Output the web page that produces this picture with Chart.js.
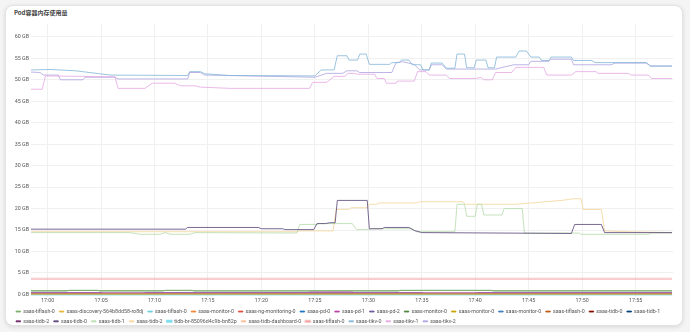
<!DOCTYPE html>
<html>
<head>
<meta charset="utf-8">
<script src="https://cdn.jsdelivr.net/npm/chart.js@4"></script>
<style>
  html, body { margin: 0; padding: 0; width: 690px; height: 332px; overflow: hidden; background: #f4f4f4; }
  .card {
    position: absolute; left: 5px; top: 5px; width: 676px; height: 319px;
    background: #fff; border: 1px solid #e4e4e4; border-radius: 8px;
    box-shadow: 0 1px 4px rgba(0,0,0,0.12);
  }
  .title {
    position: absolute; left: 14px; top: 7.5px;
    font: bold 6px "Noto Sans CJK SC", "Noto Sans", sans-serif; color: #444;
  }
  #chart { position: absolute; left: 0; top: 0; }
</style>
</head>
<body>
<div class="card"></div>
<div class="title">Pod容器内存使用量</div>
<canvas id="chart" width="690" height="334" style="width:690px;height:334px"></canvas>
<script>
// x values are minutes after 17:00, y values are GB
const yTicks = [0, 5, 10, 15, 20, 25, 30, 35, 40, 45, 50, 55, 60];
const xTicks = [0, 5, 10, 15, 20, 25, 30, 35, 40, 45, 50, 55];

const names = [
  'saas-tiflash-0', 'saas-discovery-564b8dd58-ro8dj', 'saas-tiflash-0', 'saas-monitor-0',
  'saas-ng-monitoring-0', 'saas-pd-0', 'saas-pd-1', 'saas-pd-2', 'saas-monitor-0',
  'saas-monitor-0', 'saas-monitor-0', 'saas-tiflash-0', 'saas-tidb-0', 'saas-tidb-1',
  'saas-tidb-2', 'saas-tidb-0', 'saas-tidb-1', 'saas-tidb-2', 'tidb-br-85096d4c9b-bn82p',
  'saas-tidb-dashboard-0', 'saas-tiflash-0', 'saas-tikv-0', 'saas-tikv-1', 'saas-tikv-2'
];

const colors = [
  '#7EB26D', '#EAB839', '#6ED0E0', '#EF843C', '#E24D42', '#1F78C1', '#BA43A9', '#705DA0',
  '#508642', '#CCA300', '#447EBC', '#C15C17', '#890F02', '#0A437C', '#6D1F62', '#584477',
  '#B7DBAB', '#F4D598', '#70DBED', '#F9BA8F', '#F29191', '#82B5D8', '#E5A8E2', '#AEA2E0'
];

// small pods near the bottom
const tiflashGreen = [[-1.55, 0.9], [10, 0.9], [20, 0.85], [30, 0.9], [45, 0.9], [58.4, 0.9]];
const discovery = [[-1.55, 0.05], [58.4, 0.05]];
const tiflashCyan = [[-1.55, 0.02], [58.4, 0.02]];
const monitorOrange = [[-1.55, 0.1], [58.4, 0.1]];
const ngMonitoring = [[-1.55, 0.15], [58.4, 0.15]];
const pd0 = [[-1.55, 0.12], [58.4, 0.12]];
const pd1 = [[-1.55, 0.35], [24.3, 0.35], [24.5, 0.55], [28.5, 0.55], [28.7, 0.35], [58.4, 0.35]];
const pd2 = [[-1.55, 0.4], [5, 0.4], [5.2, 0.25], [9, 0.25], [9.2, 0.4], [35, 0.4], [35.2, 0.25], [40, 0.25], [40.2, 0.4], [58.4, 0.4]];
const monitorGreen = [[-1.55, 0.8], [1.8, 0.8], [2, 0.95], [4.7, 0.95], [4.9, 0.8], [10.8, 0.8], [11, 0.95], [13.5, 0.95], [13.7, 0.8], [32.8, 0.8], [33, 0.95], [41.5, 0.95], [41.7, 0.8], [58.4, 0.8]];
const monitorYellow = [[-1.55, 0.05], [58.4, 0.05]];
const monitorBlue = [[-1.55, 0.08], [58.4, 0.08]];
const tiflashBrown = [[-1.55, 0.1], [58.4, 0.1]];
const tidb0Red = [[-1.55, 0.2], [58.4, 0.2]];
const tidb1Blue = [[-1.55, 0.2], [58.4, 0.2]];
const tidb2Purple = [[-1.55, 0.28], [58.4, 0.28]];
const tidbBr = [[-1.55, 0.0], [58.4, 0.0]];
const dashboard = [[-1.55, 0.1], [58.4, 0.1]];
const tiflashPink = [[-1.55, 3.6], [58.4, 3.6]];

// tidb group around 15 GB
const tidb0 = [[-1.55, 15.2], [12.9, 15.2], [13.1, 15.6], [19.7, 15.6], [20, 15.3], [22, 15.3], [22.2, 15.1], [24.9, 15.1], [25.2, 16.5], [26, 16.5], [26.4, 16.7], [26.9, 16.7], [27.1, 21.9], [29.9, 21.9], [30.1, 15.3], [31.3, 15.3], [31.5, 15.6], [33.8, 15.6], [34.3, 14.9], [35, 14.4], [49, 14.2], [49.3, 16.3], [51.8, 16.3], [52.1, 14.4], [58.4, 14.4]];
const tidb1 = [[-1.55, 14.4], [7.7, 14.4], [8.7, 14.0], [10.5, 14.0], [11, 14.4], [11.5, 14.0], [13.3, 14.0], [13.8, 14.4], [23.3, 14.3], [23.6, 16.3], [25.2, 16.3], [25.4, 16.5], [28.5, 16.5], [28.9, 15.1], [30.1, 15.1], [30.4, 15.3], [34.1, 15.3], [34.5, 14.6], [38.1, 14.6], [38.3, 21.0], [39, 21.0], [39.2, 18.2], [40, 18.2], [40.2, 21.0], [40.6, 21.0], [40.8, 18.5], [42.5, 18.5], [42.7, 20.0], [44.4, 20.0], [44.6, 14.3], [49.7, 14.3], [49.9, 14.0], [56.2, 14.0], [56.5, 14.3], [58.4, 14.3]];
const tidb2 = [[-1.55, 14.6], [23.3, 14.6], [23.6, 14.8], [26.7, 14.8], [27, 19.8], [28.2, 19.8], [28.4, 20.2], [29.9, 20.2], [30.1, 21.0], [30.8, 21.0], [31, 21.3], [34.5, 21.3], [34.8, 21.6], [38.8, 21.6], [39.1, 21.0], [43.8, 21.0], [48.1, 21.9], [49.2, 22.3], [49.9, 22.3], [50.1, 19.8], [51.8, 19.8], [52.1, 14.8], [54.3, 14.6], [58.4, 14.4]];

// tikv group around 50 GB
const tikv0 = [[-1.55, 52.3], [0.3, 52.4], [2.6, 52.1], [5.9, 51.1], [13.1, 51.0], [13.3, 51.9], [14.3, 51.9], [14.7, 51.4], [17, 51.0], [25, 50.9], [25.6, 52.3], [26.8, 52.3], [27.1, 55.6], [28, 55.6], [28.2, 54.6], [29, 54.6], [29.2, 56.0], [29.8, 56.0], [30.1, 53.6], [32, 53.6], [32.2, 54.0], [32.9, 54.0], [33.1, 54.6], [33.8, 54.6], [34.1, 53.5], [34.9, 53.5], [35.1, 52.3], [35.7, 52.3], [35.9, 53.9], [36.9, 53.9], [37.3, 52.7], [38.1, 52.7], [38.3, 56.0], [39, 56.0], [39.2, 52.8], [39.9, 52.8], [40.1, 54.6], [41, 54.6], [41.2, 52.8], [41.8, 52.8], [42, 55.3], [43.8, 55.3], [44.1, 56.7], [44.8, 56.7], [45.2, 55.3], [46, 55.3], [46.2, 54.5], [46.9, 54.5], [47.1, 55.3], [49, 55.3], [49.2, 54.5], [50.9, 54.5], [51.2, 54.0], [56, 54.0], [56.4, 53.2], [58.4, 53.2]];
const tikv1 = [[-1.55, 47.8], [-0.5, 47.8], [-0.2, 50.9], [6.3, 50.7], [6.6, 48.0], [9.1, 48.0], [9.8, 49.2], [11.9, 49.2], [12.4, 48.6], [13.8, 48.6], [14.3, 48.3], [17.1, 48.0], [24.5, 48.0], [24.8, 49.4], [26.1, 49.4], [26.8, 50.8], [27.8, 50.8], [28.1, 51.5], [28.7, 51.5], [29, 51.3], [30.6, 51.3], [30.8, 50.3], [31.5, 50.3], [31.7, 49.2], [32.6, 49.2], [32.7, 49.7], [34.3, 49.7], [34.6, 51.9], [35.4, 51.9], [35.7, 51.1], [37.3, 51.1], [37.6, 50.3], [40.1, 50.3], [40.4, 50.5], [40.6, 50.5], [40.8, 50.0], [41.6, 50.0], [41.9, 51.7], [43.4, 51.7], [43.8, 52.9], [46.4, 52.9], [46.7, 51.1], [49, 51.1], [49.4, 51.9], [51.3, 51.9], [51.5, 51.5], [54.3, 51.5], [54.6, 51.1], [56.2, 51.1], [56.5, 50.3], [58.4, 50.3]];
const tikv2 = [[-1.55, 51.8], [-0.7, 51.7], [-0.4, 51.1], [1.0, 51.1], [1.2, 50.0], [3.3, 50.0], [3.5, 50.6], [6.3, 50.6], [6.6, 50.2], [13.1, 50.2], [13.3, 51.7], [14.3, 51.7], [14.7, 51.1], [17, 51.0], [25, 50.6], [26.1, 51.5], [27.6, 51.5], [28, 52.1], [28.9, 52.1], [29.2, 51.7], [32.2, 51.7], [32.6, 54.0], [33.2, 54.2], [34.3, 53.6], [34.8, 52.3], [35.7, 52.3], [35.9, 53.5], [36.9, 53.5], [37.3, 52.5], [41.9, 52.5], [43.6, 53.5], [45, 53.5], [45.2, 54.3], [46.9, 54.3], [47.1, 54.8], [49, 54.8], [49.2, 53.5], [52.7, 53.5], [53.1, 53.9], [56, 53.9], [56.4, 53.2], [58.4, 53.2]];

const series = [
  tiflashGreen, discovery, tiflashCyan, monitorOrange, ngMonitoring, pd0, pd1, pd2,
  monitorGreen, monitorYellow, monitorBlue, tiflashBrown, tidb0Red, tidb1Blue, tidb2Purple, tidb0,
  tidb1, tidb2, tidbBr, dashboard, tiflashPink, tikv0, tikv1, tikv2
];

// hex -> rgba, lines in the screenshot look a bit washed out
function fade(hex, a) {
  const n = parseInt(hex.slice(1), 16);
  return 'rgba(' + (n >> 16) + ',' + ((n >> 8) & 255) + ',' + (n & 255) + ',' + a + ')';
}

const datasets = series.map((s, i) => {
  let line = fade(colors[i], 0.8);
  let width = 1;
  if (i === 20) { line = fade(colors[i], 0.45); width = 2.2; }
  if (i === 18) width = 2;
  return {
    label: names[i],
    data: s.map(p => ({ x: p[0], y: p[1] })),
    borderColor: line,
    backgroundColor: colors[i],
    borderWidth: width,
    pointRadius: 0,
    tension: 0,
    fill: false
  };
});

const pad2 = n => (n < 10 ? '0' : '') + n;

new Chart(document.getElementById('chart'), {
  type: 'line',
  data: { datasets: datasets },
  options: {
    responsive: false,
    animation: false,
    layout: { padding: { left: 11.5, right: 8, top: 24, bottom: 0 } },
    scales: {
      x: {
        type: 'linear',
        min: -1.55,
        max: 58.5,
        afterBuildTicks: scale => { scale.ticks = xTicks.map(v => ({ value: v })); },
        afterFit: scale => { scale.height = 7.5; },
        grid: { color: '#f0f0f0', drawTicks: false },
        border: { display: false },
        ticks: {
          padding: 1,
          color: '#555',
          font: { size: 5.3, family: 'Roboto' },
          maxRotation: 0,
          callback: v => '17:' + pad2(v)
        }
      },
      y: {
        min: -0.58,
        max: 63,
        afterBuildTicks: scale => { scale.ticks = yTicks.map(v => ({ value: v })); },
        afterFit: scale => { scale.width = 19.5; },
        grid: { color: '#f0f0f0', drawTicks: false },
        border: { display: false },
        ticks: {
          padding: 2,
          color: '#555',
          font: { size: 5.3, family: 'Roboto' },
          callback: v => v + ' GB'
        }
      },
      // empty right axis, only keeps a gap on the right of the plot
      yGap: {
        position: 'right',
        afterFit: scale => { scale.width = 9; },
        grid: { display: false },
        border: { display: false },
        ticks: { display: false }
      }
    },
    plugins: {
      legend: {
        position: 'bottom',
        align: 'start',
        labels: {
          boxWidth: 4.5,
          boxHeight: 1,
          padding: 4.5,
          color: '#555',
          font: { size: 5.3, family: 'Roboto' }
        }
      },
      tooltip: { enabled: false }
    }
  }
});
</script>
</body>
</html>
